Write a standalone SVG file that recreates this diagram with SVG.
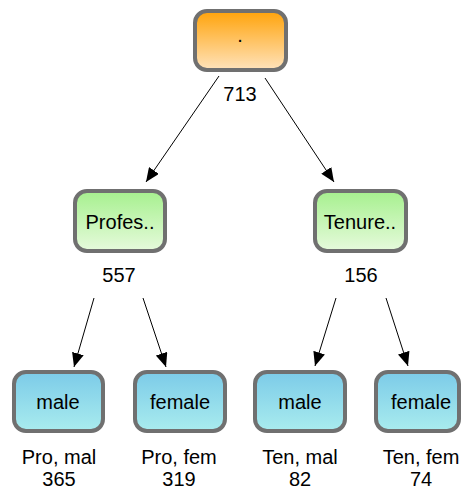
<svg xmlns="http://www.w3.org/2000/svg" width="462" height="490" viewBox="0 0 462 490">
<defs>
<linearGradient id="gOrange" x1="0" y1="0" x2="0" y2="1"><stop offset="0" stop-color="#FFA30A"/><stop offset="1" stop-color="#FFE3BC"/></linearGradient>
<linearGradient id="gGreen" x1="0" y1="0" x2="0" y2="1"><stop offset="0" stop-color="#A6F08E"/><stop offset="1" stop-color="#E6FADC"/></linearGradient>
<linearGradient id="gBlue" x1="0" y1="0" x2="0" y2="1"><stop offset="0" stop-color="#7CCBE8"/><stop offset="1" stop-color="#A9ECEE"/></linearGradient>
<marker id="arr" viewBox="0 0 14 12" refX="14" refY="6" markerWidth="14" markerHeight="12" markerUnits="userSpaceOnUse" orient="auto"><path d="M0,0 L14,6 L0,12 Z" fill="#000"/></marker>
<style>
.box{stroke:#707070;stroke-width:4}
.t{font-family:"Liberation Sans",Arial,sans-serif;font-size:20px;fill:#000;text-anchor:middle}
.c{stroke:#000;stroke-width:1;fill:none;marker-end:url(#arr)}
</style>
</defs>
<g id="connectors">
<line class="c" x1="219" y1="76" x2="146" y2="182"/>
<line class="c" x1="265" y1="78" x2="334" y2="182"/>
<line class="c" x1="94" y1="298" x2="74" y2="367"/>
<line class="c" x1="143" y1="298" x2="166" y2="367"/>
<line class="c" x1="336" y1="298" x2="315" y2="366"/>
<line class="c" x1="386" y1="298" x2="408" y2="366"/>
</g>
<g id="root">
<rect class="box" x="195" y="11" width="91" height="59" rx="12" fill="url(#gOrange)"/>
<text class="t" x="240" y="42">.</text>
<text class="t" x="240" y="101">713</text>
</g>
<g id="profes">
<rect class="box" x="75" y="191" width="90" height="60" rx="12" fill="url(#gGreen)"/>
<text class="t" x="120" y="229">Profes..</text>
<text class="t" x="119" y="282">557</text>
</g>
<g id="tenure">
<rect class="box" x="315" y="191" width="91" height="60" rx="12" fill="url(#gGreen)"/>
<text class="t" x="360" y="229">Tenure..</text>
<text class="t" x="361" y="282">156</text>
</g>
<g id="pro-male">
<rect class="box" x="14" y="372" width="89" height="59" rx="12" fill="url(#gBlue)"/>
<text class="t" x="58" y="409">male</text>
<text class="t" x="59" y="464">Pro, mal</text>
<text class="t" x="59" y="486">365</text>
</g>
<g id="pro-female">
<rect class="box" x="135" y="372" width="90" height="59" rx="12" fill="url(#gBlue)"/>
<text class="t" x="180" y="409">female</text>
<text class="t" x="179" y="464">Pro, fem</text>
<text class="t" x="179" y="486">319</text>
</g>
<g id="ten-male">
<rect class="box" x="255" y="372" width="90" height="59" rx="12" fill="url(#gBlue)"/>
<text class="t" x="300" y="409">male</text>
<text class="t" x="300" y="464">Ten, mal</text>
<text class="t" x="300" y="486">82</text>
</g>
<g id="ten-female">
<rect class="box" x="376" y="372" width="83" height="59" rx="12" fill="url(#gBlue)"/>
<text class="t" x="421" y="409">female</text>
<text class="t" x="421" y="464">Ten, fem</text>
<text class="t" x="421" y="486">74</text>
</g>
</svg>
